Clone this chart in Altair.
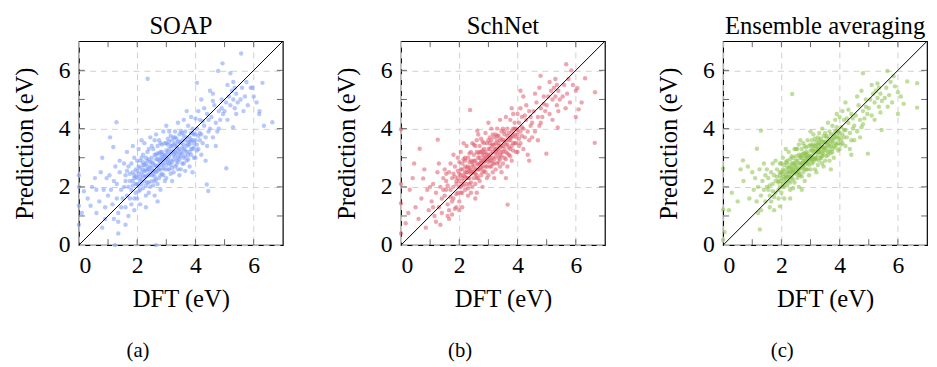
import altair as alt
import pandas as pd

# ---------------- data ----------------
PANEL_TITLES = ["SOAP", "SchNet", "Ensemble averaging"]
CAPTIONS = ["(a)", "(b)", "(c)"]
COLORS = ["#7b9af8", "#df5d6e", "#8bc148"]
TICK_VALUES = [1, 2, 3, 4, 5, 6]
LABEL_VALUES = [0, 2, 4, 6]
AXIS_RANGE = [0, 7]

SOAP_POINTS = [
    (0.0, 2.4), (0.0, 2.0), (0.0, 1.35), (0.0, 0.7), (0.1, 1.1), (0.17, 1.85), (0.45, 2.0), (0.4, 1.35), (0.3, 1.6), (0.6, 1.1),
    (0.8, 3.0), (0.6, 1.9), (0.7, 1.5), (0.8, 0.6), (0.9, 1.3), (0.95, 2.3), (0.85, 1.9), (0.75, 2.5), (0.9, 0.9), (0.55, 2.3),
    (1.07, 3.7), (1.18, 3.37), (1.29, 4.22), (1.24, 0.0), (1.35, 0.4), (2.64, 0.0), (2.36, 5.71),
    (1.1, 1.9), (1.2, 2.2), (1.3, 1.6), (1.4, 2.5), (1.45, 1.9), (1.25, 2.7), (1.35, 1.1), (1.15, 1.4), (1.4, 2.9), (1.05, 2.4),
    (1.3, 2.1), (1.45, 1.3), (1.2, 0.9), (1.0, 1.7), (1.35, 0.8),
    (1.55, 2.0), (1.6, 2.4), (1.65, 1.7), (1.7, 2.7), (1.75, 2.2), (1.8, 1.9), (1.85, 2.5), (1.9, 3.0), (1.95, 2.1), (1.6, 1.3),
    (1.7, 1.0), (1.8, 1.4), (1.9, 1.6), (1.55, 2.8), (1.65, 3.2), (1.75, 2.45), (1.85, 2.05), (1.95, 2.6), (1.7, 2.0), (1.8, 2.8),
    (1.9, 2.3), (1.6, 2.2), (1.95, 1.8), (1.85, 3.4), (1.75, 1.6), (1.5, 1.6), (1.6, 0.7), (1.9, 1.2), (1.65, 2.55), (1.85, 2.2),
    (2.0, 2.3), (2.05, 2.7), (2.1, 1.9), (2.15, 2.5), (2.2, 3.1), (2.25, 2.2), (2.3, 2.8), (2.35, 2.4), (2.4, 3.3), (2.45, 2.0),
    (2.0, 1.6), (2.1, 2.9), (2.2, 2.6), (2.3, 1.7), (2.4, 2.6), (2.05, 3.3), (2.15, 2.1), (2.25, 3.5), (2.35, 2.9), (2.45, 2.5),
    (2.0, 2.55), (2.1, 2.35), (2.2, 1.95), (2.3, 2.35), (2.4, 2.15), (2.15, 3.0), (2.25, 2.75), (2.35, 3.2), (2.45, 2.85), (2.05, 2.05),
    (2.2, 2.4), (2.3, 3.0), (2.4, 1.8), (2.1, 1.4), (2.3, 1.3), (2.45, 3.7), (2.15, 3.6), (2.35, 2.6), (2.0, 2.9), (2.25, 2.55),
    (2.5, 2.4), (2.55, 2.8), (2.6, 3.1), (2.65, 2.5), (2.7, 3.4), (2.75, 2.9), (2.8, 2.6), (2.85, 3.2), (2.9, 2.8), (2.95, 3.5),
    (2.5, 3.0), (2.6, 2.2), (2.7, 2.7), (2.8, 3.0), (2.9, 2.4), (2.55, 3.3), (2.65, 2.95), (2.75, 2.3), (2.85, 2.75), (2.95, 3.05),
    (2.5, 2.65), (2.6, 3.6), (2.7, 2.1), (2.8, 3.5), (2.9, 3.1), (2.55, 2.05), (2.65, 3.8), (2.75, 3.15), (2.85, 2.45), (2.95, 2.6),
    (2.6, 1.7), (2.8, 1.9), (2.9, 3.9), (2.7, 2.95), (2.8, 2.85), (2.5, 3.4), (2.65, 2.7), (2.95, 2.2), (2.75, 3.6), (2.85, 3.45),
    (2.7, 1.5), (2.6, 2.55),
    (3.0, 3.0), (3.05, 2.6), (3.1, 3.3), (3.15, 2.9), (3.2, 3.6), (3.25, 3.1), (3.3, 2.7), (3.35, 3.4), (3.4, 3.0), (3.45, 3.8),
    (3.0, 3.5), (3.1, 2.8), (3.2, 3.2), (3.3, 3.5), (3.4, 2.6), (3.05, 3.2), (3.15, 3.75), (3.25, 2.5), (3.35, 3.15), (3.45, 3.3),
    (3.0, 2.3), (3.1, 3.9), (3.2, 2.85), (3.3, 3.9), (3.4, 3.55), (3.05, 2.95), (3.15, 3.4), (3.25, 3.45), (3.35, 2.9), (3.45, 2.95),
    (3.0, 4.1), (3.2, 2.2), (3.3, 3.2), (3.4, 4.2), (3.1, 3.05), (3.25, 3.7), (3.45, 2.4), (3.15, 2.45), (3.35, 3.65), (3.05, 3.65),
    (3.5, 3.2), (3.55, 3.6), (3.6, 3.0), (3.65, 3.9), (3.7, 3.4), (3.75, 3.1), (3.8, 3.7), (3.85, 3.3), (3.9, 4.0), (3.95, 3.5),
    (3.5, 3.9), (3.6, 3.45), (3.7, 2.9), (3.8, 3.2), (3.9, 3.6), (3.55, 2.8), (3.65, 3.25), (3.75, 4.1), (3.85, 3.85), (3.95, 3.0),
    (3.5, 2.6), (3.6, 4.3), (3.7, 3.7), (3.8, 2.7), (3.9, 3.3), (3.55, 3.35), (3.65, 2.55), (3.75, 3.55), (3.85, 4.4), (3.95, 3.8),
    (3.7, 4.6), (3.6, 3.75), (3.8, 3.45), (3.9, 2.5),
    (4.0, 3.6), (4.05, 4.0), (4.1, 3.3), (4.15, 4.3), (4.2, 3.8), (4.25, 3.5), (4.3, 4.1), (4.35, 3.7), (4.4, 4.5), (4.45, 3.9),
    (4.0, 3.0), (4.1, 4.6), (4.2, 3.1), (4.3, 4.7), (4.4, 3.4), (4.05, 3.45), (4.15, 3.85), (4.25, 4.25), (4.35, 2.9), (4.45, 4.3),
    (4.39, 2.08), (4.44, 1.86), (4.05, 5.57), (4.2, 5.0), (4.0, 4.35),
    (4.5, 4.0), (4.55, 4.4), (4.6, 3.7), (4.65, 4.8), (4.7, 4.2), (4.75, 3.9), (4.8, 4.6), (4.85, 4.3), (4.9, 5.0), (4.95, 4.5),
    (4.6, 5.2), (4.7, 3.4), (4.8, 4.0), (4.9, 4.7), (4.78, 5.98), (4.93, 6.24), (4.5, 5.3), (4.6, 4.95),
    (5.0, 4.6), (5.05, 4.9), (5.1, 4.3), (5.15, 5.1), (5.2, 4.8), (5.25, 5.3), (5.3, 5.0), (5.35, 4.7), (5.4, 5.2), (5.45, 4.9),
    (5.06, 2.64), (5.29, 4.05), (5.1, 5.5), (5.3, 5.6), (5.4, 4.5), (5.2, 5.9), (5.35, 5.4),
    (5.57, 6.58), (5.6, 5.4), (5.7, 5.1), (5.8, 4.8), (5.9, 5.4), (5.96, 5.4), (6.3, 5.57), (6.64, 4.22), (6.19, 4.5), (6.0, 5.1),
    (6.1, 4.9), (5.75, 5.6), (5.65, 4.6), (6.2, 4.6), (5.55, 5.0), (6.35, 4.1),
]

SOAP_CORE = [
    (1.9, 2.4), (2.0, 2.1), (2.05, 2.45), (2.1, 2.65), (2.15, 2.25), (2.2, 2.75), (2.25, 2.35), (2.3, 2.55), (2.35, 2.15), (2.4, 2.4),
    (2.45, 2.7), (2.5, 2.2), (2.5, 2.85), (2.55, 2.55), (2.6, 2.75), (2.6, 2.35), (2.65, 3.1), (2.7, 2.55), (2.75, 2.75), (2.8, 2.4),
    (2.8, 3.2), (2.85, 2.95), (2.9, 2.65), (2.95, 2.9), (3.0, 2.75), (3.0, 3.25), (3.05, 3.45), (3.1, 2.6), (3.1, 3.55), (3.15, 3.15),
    (3.2, 3.4), (3.2, 2.65), (3.25, 2.95), (3.3, 3.05), (3.3, 3.7), (3.35, 3.35), (3.4, 3.25), (3.4, 2.85), (3.45, 3.55), (3.5, 3.05),
    (3.5, 3.5), (3.55, 3.15), (3.6, 3.3), (3.6, 2.8), (3.65, 3.6), (3.7, 3.2), (3.75, 3.45), (3.8, 3.55), (3.85, 3.1), (3.9, 3.85),
    (3.95, 3.35), (4.0, 3.8), (4.05, 3.25), (4.1, 3.75), (4.15, 3.6), (2.1, 2.2), (2.2, 2.85), (2.3, 2.05), (2.4, 2.95), (2.55, 2.45),
    (2.7, 3.15), (2.9, 2.95), (3.0, 3.1), (3.15, 2.75), (3.25, 3.25), (3.45, 3.1), (3.55, 3.85), (3.75, 2.95), (2.65, 2.25), (2.85, 3.1),
    (1.95, 2.35), (2.05, 1.85), (2.35, 2.7), (2.75, 2.6), (3.05, 2.85), (3.35, 2.75), (3.65, 3.05), (3.85, 3.6),
]

SCHNET_POINTS = [
    (0.0, 3.98), (0.0, 2.1), (0.0, 1.44), (0.0, 0.4), (0.16, 0.75), (0.25, 1.1), (0.45, 2.8), (0.64, 3.31), (0.76, 2.29), (0.3, 1.9),
    (0.5, 1.3), (0.6, 0.9), (0.7, 1.6), (0.85, 0.6), (0.9, 1.9), (0.4, 2.3), (0.95, 1.2), (0.8, 2.6),
    (1.26, 3.62), (2.37, 4.64), (2.62, 3.93), (3.66, 1.39), (4.99, 3.14), (5.38, 4.04), (4.79, 5.81), (5.67, 6.21), (6.32, 5.73),
    (6.66, 5.25), (6.65, 3.51), (6.1, 4.66), (6.06, 5.39),
    (1.05, 1.5), (1.1, 2.1), (1.15, 1.0), (1.2, 1.8), (1.25, 2.5), (1.3, 1.3), (1.35, 2.0), (1.4, 1.6), (1.45, 2.3), (1.0, 2.0),
    (1.2, 0.8), (1.3, 2.8), (1.4, 1.1), (1.1, 1.3), (1.45, 1.9), (1.35, 0.7),
    (1.5, 1.7), (1.55, 2.2), (1.6, 1.4), (1.65, 2.5), (1.7, 1.9), (1.75, 2.3), (1.8, 1.6), (1.85, 2.7), (1.9, 2.1), (1.95, 1.8),
    (1.5, 2.6), (1.6, 1.0), (1.7, 2.8), (1.8, 2.0), (1.9, 1.3), (1.55, 1.9), (1.65, 1.2), (1.75, 1.5), (1.85, 2.35), (1.95, 2.55),
    (1.6, 2.05), (1.7, 1.65), (1.8, 3.1), (1.9, 1.75), (1.65, 0.9), (1.75, 1.05), (1.85, 1.25), (1.95, 3.0), (1.55, 2.45), (1.8, 2.45),
    (2.0, 2.2), (2.05, 2.6), (2.1, 1.8), (2.15, 2.4), (2.2, 3.0), (2.25, 2.1), (2.3, 2.7), (2.35, 2.3), (2.4, 3.2), (2.45, 2.5),
    (2.0, 1.5), (2.1, 2.8), (2.2, 2.5), (2.3, 1.7), (2.4, 2.6), (2.05, 3.2), (2.15, 2.05), (2.25, 3.4), (2.35, 2.85), (2.45, 2.0),
    (2.0, 2.45), (2.1, 2.3), (2.2, 1.9), (2.3, 2.3), (2.4, 2.15), (2.15, 2.95), (2.25, 2.65), (2.35, 3.15), (2.45, 2.85), (2.05, 2.0),
    (2.2, 2.35), (2.3, 3.0), (2.4, 1.8), (2.1, 1.3), (2.0, 1.2), (2.45, 3.5), (2.15, 3.5), (2.35, 2.55), (2.0, 2.85), (2.25, 2.5),
    (2.5, 2.5), (2.55, 2.9), (2.6, 3.2), (2.65, 2.6), (2.7, 3.4), (2.75, 2.9), (2.8, 2.7), (2.85, 3.3), (2.9, 2.9), (2.95, 3.5),
    (2.5, 3.1), (2.6, 2.3), (2.7, 2.8), (2.8, 3.1), (2.9, 2.5), (2.55, 3.4), (2.65, 3.0), (2.75, 2.4), (2.85, 2.85), (2.95, 3.1),
    (2.5, 2.7), (2.6, 3.6), (2.7, 2.2), (2.8, 3.55), (2.9, 3.2), (2.55, 2.1), (2.65, 3.8), (2.75, 3.2), (2.85, 2.55), (2.95, 2.7),
    (2.6, 1.8), (2.8, 2.0), (2.9, 3.85), (2.7, 3.0), (2.8, 2.9), (2.5, 3.45), (2.65, 2.75), (2.95, 2.3), (2.75, 3.65), (2.85, 3.5),
    (2.55, 1.6), (2.6, 2.6),
    (3.0, 3.1), (3.05, 2.7), (3.1, 3.4), (3.15, 3.0), (3.2, 3.7), (3.25, 3.2), (3.3, 2.8), (3.35, 3.5), (3.4, 3.1), (3.45, 3.9),
    (3.0, 3.6), (3.1, 2.9), (3.2, 3.3), (3.3, 3.6), (3.4, 2.7), (3.05, 3.3), (3.15, 3.8), (3.25, 2.6), (3.35, 3.25), (3.45, 3.4),
    (3.0, 2.4), (3.1, 4.0), (3.2, 2.95), (3.3, 4.0), (3.4, 3.6), (3.05, 3.0), (3.15, 3.45), (3.25, 3.5), (3.35, 3.0), (3.45, 3.05),
    (3.0, 4.2), (3.2, 2.3), (3.3, 3.3), (3.4, 4.3), (3.1, 3.15), (3.25, 3.8), (3.45, 2.5), (3.15, 2.5), (3.35, 3.75), (3.05, 3.7),
    (3.5, 3.4), (3.55, 3.8), (3.6, 3.2), (3.65, 4.0), (3.7, 3.6), (3.75, 3.3), (3.8, 3.9), (3.85, 3.5), (3.9, 4.2), (3.95, 3.7),
    (3.5, 4.0), (3.6, 3.6), (3.7, 3.1), (3.8, 3.4), (3.9, 3.8), (3.55, 3.0), (3.65, 3.45), (3.75, 4.3), (3.85, 4.0), (3.95, 3.2),
    (3.5, 2.8), (3.6, 4.4), (3.7, 3.85), (3.8, 2.9), (3.9, 3.5), (3.55, 3.55), (3.65, 2.7), (3.75, 3.7), (3.85, 4.5), (3.95, 4.0),
    (3.6, 2.3), (3.8, 4.7),
    (4.0, 3.8), (4.05, 4.2), (4.1, 3.5), (4.15, 4.4), (4.2, 4.0), (4.25, 3.7), (4.3, 4.3), (4.35, 3.9), (4.4, 4.6), (4.45, 4.1),
    (4.0, 3.2), (4.1, 4.7), (4.2, 3.3), (4.3, 4.8), (4.4, 3.6), (4.05, 3.65), (4.15, 4.05), (4.25, 4.45), (4.35, 3.1), (4.45, 4.4),
    (4.0, 4.5), (4.2, 5.1), (4.4, 2.9), (4.1, 5.3),
    (4.5, 4.2), (4.55, 4.6), (4.6, 3.9), (4.65, 4.9), (4.7, 4.4), (4.75, 4.1), (4.8, 4.7), (4.85, 4.4), (4.9, 5.1), (4.95, 4.6),
    (4.6, 5.2), (4.7, 3.6), (4.8, 4.2), (4.9, 4.85), (4.5, 3.7), (4.75, 5.4),
    (5.0, 4.8), (5.05, 5.1), (5.1, 4.5), (5.15, 5.3), (5.2, 5.0), (5.25, 5.4), (5.3, 5.1), (5.35, 4.8), (5.4, 5.3), (5.45, 5.0),
    (5.1, 5.6), (5.3, 5.7), (5.4, 4.6), (5.2, 4.3), (5.35, 5.5),
    (5.6, 5.5), (5.7, 5.2), (5.8, 4.9), (5.9, 5.5), (5.75, 5.7), (5.65, 4.7), (5.55, 5.1), (6.0, 5.3), (6.2, 4.9), (5.85, 6.0),
    (6.0, 4.4),
]

SCHNET_CORE = [
    (1.9, 2.2), (2.0, 2.0), (2.05, 2.4), (2.1, 2.6), (2.15, 2.2), (2.2, 2.7), (2.25, 2.3), (2.3, 2.5), (2.35, 2.1), (2.4, 2.45),
    (2.45, 2.75), (2.5, 2.3), (2.5, 2.9), (2.55, 2.6), (2.6, 2.8), (2.6, 2.4), (2.65, 3.15), (2.7, 2.6), (2.75, 2.8), (2.8, 2.5),
    (2.8, 3.25), (2.85, 3.0), (2.9, 2.7), (2.95, 2.95), (3.0, 2.85), (3.0, 3.3), (3.05, 3.5), (3.1, 2.7), (3.1, 3.6), (3.15, 3.2),
    (3.2, 3.45), (3.2, 2.8), (3.25, 3.05), (3.3, 3.15), (3.3, 3.75), (3.35, 3.4), (3.4, 3.35), (3.4, 2.95), (3.45, 3.65), (3.5, 3.2),
    (3.5, 3.6), (3.55, 3.3), (3.6, 3.45), (3.6, 2.95), (3.65, 3.75), (3.7, 3.35), (3.75, 3.6), (3.8, 3.7), (3.85, 3.25), (3.9, 4.0),
    (3.95, 3.5), (4.0, 3.95), (4.05, 3.4), (4.1, 3.9), (4.15, 3.75), (2.1, 2.1), (2.2, 2.9), (2.3, 1.95), (2.4, 2.9), (2.55, 2.45),
    (2.7, 3.2), (2.9, 3.0), (3.0, 3.05), (3.15, 2.8), (3.25, 3.3), (3.45, 3.2), (3.55, 3.9), (3.75, 3.05), (2.65, 2.3), (2.85, 3.15),
    (1.95, 2.3), (2.05, 1.8), (2.35, 2.65), (2.75, 2.65), (3.05, 2.9), (3.35, 2.85), (3.65, 3.15), (3.85, 3.75),
]

ENSEMBLE_POINTS = [
    (0.0, 2.63), (0.0, 1.22), (0.0, 0.18), (0.05, 0.45), (0.68, 2.91), (1.16, 3.31), (1.3, 3.93), (2.37, 5.19), (1.26, 0.54),
    (1.95, 1.33), (4.97, 3.14), (5.44, 3.95), (4.8, 5.9), (5.64, 5.98), (6.32, 5.62), (6.66, 5.56), (6.66, 4.72), (0.3, 1.8),
    (0.5, 1.5), (0.7, 2.2), (0.9, 1.6), (0.6, 2.6), (0.2, 1.2), (0.85, 2.7),
    (1.05, 1.9), (1.1, 2.3), (1.15, 1.5), (1.2, 2.0), (1.25, 2.6), (1.3, 1.7), (1.35, 2.2), (1.4, 1.9), (1.45, 2.4), (1.0, 2.5),
    (1.3, 1.2), (1.4, 2.8), (1.2, 1.1), (1.45, 1.5),
    (1.5, 2.0), (1.55, 2.3), (1.6, 1.7), (1.65, 2.5), (1.7, 2.1), (1.75, 2.4), (1.8, 1.8), (1.85, 2.6), (1.9, 2.2), (1.95, 2.0),
    (1.5, 2.6), (1.6, 1.3), (1.7, 2.8), (1.8, 2.2), (1.9, 1.6), (1.55, 1.9), (1.65, 1.5), (1.75, 1.65), (1.85, 2.35), (1.95, 2.5),
    (1.6, 2.05), (1.7, 1.85), (1.8, 2.9), (1.9, 1.9), (1.75, 1.2), (1.95, 2.8),
    (2.0, 2.3), (2.05, 2.6), (2.1, 2.0), (2.15, 2.4), (2.2, 2.9), (2.25, 2.2), (2.3, 2.7), (2.35, 2.4), (2.4, 3.0), (2.45, 2.5),
    (2.0, 1.8), (2.1, 2.75), (2.2, 2.5), (2.3, 1.9), (2.4, 2.6), (2.05, 3.0), (2.15, 2.15), (2.25, 3.2), (2.35, 2.8), (2.45, 2.15),
    (2.0, 2.5), (2.1, 2.35), (2.2, 2.05), (2.3, 2.35), (2.4, 2.25), (2.15, 2.85), (2.25, 2.65), (2.35, 3.05), (2.45, 2.8), (2.05, 2.1),
    (2.2, 2.35), (2.3, 2.95), (2.4, 1.95), (2.1, 1.6), (2.45, 3.3), (2.15, 3.3), (2.35, 2.55), (2.0, 2.8), (2.25, 2.5), (2.3, 1.6),
    (2.5, 2.6), (2.55, 2.9), (2.6, 3.1), (2.65, 2.65), (2.7, 3.3), (2.75, 2.9), (2.8, 2.75), (2.85, 3.2), (2.9, 2.9), (2.95, 3.4),
    (2.5, 3.05), (2.6, 2.4), (2.7, 2.8), (2.8, 3.05), (2.9, 2.6), (2.55, 3.3), (2.65, 3.0), (2.75, 2.5), (2.85, 2.85), (2.95, 3.05),
    (2.5, 2.75), (2.6, 3.45), (2.7, 2.35), (2.8, 3.4), (2.9, 3.15), (2.55, 2.3), (2.65, 3.6), (2.75, 3.15), (2.85, 2.6), (2.95, 2.75),
    (2.6, 2.0), (2.8, 2.2), (2.9, 3.6), (2.7, 3.0), (2.8, 2.9), (2.5, 3.3), (2.65, 2.8), (2.95, 2.4), (2.75, 3.5), (2.85, 3.35),
    (2.6, 2.6), (2.7, 1.9),
    (3.0, 3.05), (3.05, 2.8), (3.1, 3.3), (3.15, 3.0), (3.2, 3.55), (3.25, 3.2), (3.3, 2.9), (3.35, 3.45), (3.4, 3.15), (3.45, 3.75),
    (3.0, 3.45), (3.1, 2.95), (3.2, 3.25), (3.3, 3.5), (3.4, 2.8), (3.05, 3.25), (3.15, 3.65), (3.25, 2.75), (3.35, 3.2), (3.45, 3.35),
    (3.0, 2.6), (3.1, 3.8), (3.2, 3.0), (3.3, 3.85), (3.4, 3.55), (3.05, 3.0), (3.15, 3.4), (3.25, 3.45), (3.35, 3.0), (3.45, 3.1),
    (3.0, 3.9), (3.2, 2.5), (3.3, 3.3), (3.4, 4.0), (3.1, 3.15), (3.25, 3.7), (3.45, 2.7), (3.15, 2.6), (3.35, 3.65), (3.05, 3.6),
    (3.5, 3.35), (3.55, 3.7), (3.6, 3.2), (3.65, 3.9), (3.7, 3.55), (3.75, 3.3), (3.8, 3.8), (3.85, 3.5), (3.9, 4.05), (3.95, 3.65),
    (3.5, 3.85), (3.6, 3.55), (3.7, 3.15), (3.8, 3.4), (3.9, 3.75), (3.55, 3.05), (3.65, 3.4), (3.75, 4.1), (3.85, 3.9), (3.95, 3.25),
    (3.5, 2.9), (3.6, 4.2), (3.7, 3.8), (3.8, 3.0), (3.9, 3.45), (3.55, 3.5), (3.65, 2.9), (3.75, 3.65), (3.85, 4.3), (3.95, 3.9),
    (3.7, 2.6), (3.9, 4.5),
    (4.0, 3.7), (4.05, 4.05), (4.1, 3.5), (4.15, 4.3), (4.2, 3.95), (4.25, 3.7), (4.3, 4.2), (4.35, 3.85), (4.4, 4.5), (4.45, 4.0),
    (4.0, 3.3), (4.1, 4.6), (4.2, 3.4), (4.3, 4.65), (4.4, 3.6), (4.05, 3.6), (4.15, 3.95), (4.25, 4.35), (4.35, 3.3), (4.45, 4.35),
    (4.0, 4.4), (4.2, 4.9), (4.4, 3.1),
    (4.5, 4.1), (4.55, 4.45), (4.6, 3.9), (4.65, 4.8), (4.7, 4.3), (4.75, 4.05), (4.8, 4.6), (4.85, 4.35), (4.9, 5.0), (4.95, 4.5),
    (4.6, 5.1), (4.7, 3.7), (4.8, 4.15), (4.9, 4.75), (4.5, 3.6), (4.75, 5.3),
    (5.0, 4.7), (5.05, 5.0), (5.1, 4.45), (5.15, 5.2), (5.2, 4.9), (5.25, 5.3), (5.3, 5.05), (5.35, 4.75), (5.4, 5.2), (5.45, 4.95),
    (5.1, 5.5), (5.3, 5.55), (5.4, 4.55), (5.2, 4.3), (5.35, 5.4),
    (5.6, 5.4), (5.7, 5.15), (5.8, 4.9), (5.9, 5.45), (5.75, 5.6), (5.65, 4.75), (5.55, 5.05), (6.0, 5.25), (6.2, 4.85), (5.85, 5.8),
    (6.0, 4.5), (6.1, 5.1),
]

ENSEMBLE_CORE = [
    (1.9, 2.15), (2.0, 2.2), (2.05, 2.45), (2.1, 2.55), (2.15, 2.3), (2.2, 2.65), (2.25, 2.35), (2.3, 2.5), (2.35, 2.3), (2.4, 2.5),
    (2.45, 2.7), (2.5, 2.45), (2.5, 2.9), (2.55, 2.65), (2.6, 2.8), (2.6, 2.5), (2.65, 3.05), (2.7, 2.65), (2.75, 2.8), (2.8, 2.6),
    (2.8, 3.15), (2.85, 3.0), (2.9, 2.8), (2.95, 2.95), (3.0, 2.9), (3.0, 3.25), (3.05, 3.4), (3.1, 2.85), (3.1, 3.45), (3.15, 3.2),
    (3.2, 3.4), (3.2, 2.95), (3.25, 3.1), (3.3, 3.2), (3.3, 3.6), (3.35, 3.35), (3.4, 3.35), (3.4, 3.05), (3.45, 3.55), (3.5, 3.25),
    (3.5, 3.55), (3.55, 3.35), (3.6, 3.45), (3.6, 3.1), (3.65, 3.65), (3.7, 3.4), (3.75, 3.55), (3.8, 3.65), (3.85, 3.35), (3.9, 3.9),
    (3.95, 3.5), (4.0, 3.85), (4.05, 3.45), (4.1, 3.8), (4.15, 3.7), (2.1, 2.25), (2.2, 2.8), (2.3, 2.15), (2.4, 2.8), (2.55, 2.5),
    (2.7, 3.1), (2.9, 3.0), (3.0, 3.05), (3.15, 2.95), (3.25, 3.3), (3.45, 3.25), (3.55, 3.75), (3.75, 3.2), (2.65, 2.4), (2.85, 3.1),
    (1.95, 2.4), (2.05, 2.0), (2.35, 2.65), (2.75, 2.7), (3.05, 2.95), (3.35, 3.0), (3.65, 3.25), (3.85, 3.7),
]

ALL_POINTS = [SOAP_POINTS + SOAP_CORE, SCHNET_POINTS + SCHNET_CORE, ENSEMBLE_POINTS + ENSEMBLE_CORE]

# ---------------- chart ----------------
SERIF = "Liberation Serif"
W = 207
H = 207

ticks_df = pd.DataFrame({"t": TICK_VALUES})
diag_df = pd.DataFrame({"x": [AXIS_RANGE[0]], "y": [AXIS_RANGE[0]], "x2": [AXIS_RANGE[1]], "y2": [AXIS_RANGE[1]]})

xscale = alt.Scale(domain=AXIS_RANGE, nice=False, zero=False)
yscale = alt.Scale(domain=AXIS_RANGE, nice=False, zero=False)


def panel(points, title, caption, color):
    df = pd.DataFrame(points, columns=["dft", "pred"])
    xaxis = alt.Axis(values=LABEL_VALUES, title="DFT (eV)", ticks=False, domain=False,
                     grid=True, labelPadding=9, titlePadding=9)
    yaxis = alt.Axis(values=LABEL_VALUES, title="Prediction (eV)", ticks=False, domain=False,
                     grid=True, labelPadding=9, titlePadding=21)
    pts = alt.Chart(df).mark_circle(size=20, opacity=0.55, color=color).encode(
        x=alt.X("dft:Q", scale=xscale, axis=xaxis),
        y=alt.Y("pred:Q", scale=yscale, axis=yaxis),
    )
    diag = alt.Chart(diag_df).mark_rule(color="black", strokeWidth=1).encode(
        x="x:Q", y="y:Q", x2="x2:Q", y2="y2:Q"
    )
    tick_style = dict(color="#444444", strokeWidth=0.8)
    tb = alt.Chart(ticks_df).mark_rule(**tick_style).encode(x="t:Q", y=alt.value(H), y2=alt.value(H - 6))
    tt = alt.Chart(ticks_df).mark_rule(**tick_style).encode(x="t:Q", y=alt.value(0), y2=alt.value(6))
    tl = alt.Chart(ticks_df).mark_rule(**tick_style).encode(y="t:Q", x=alt.value(0), x2=alt.value(6))
    tr = alt.Chart(ticks_df).mark_rule(**tick_style).encode(y="t:Q", x=alt.value(W), x2=alt.value(W - 6))
    cap = alt.Chart(pd.DataFrame({"c": [caption]})).mark_text(
        font=SERIF, fontSize=21, color="black", baseline="middle", align="center"
    ).encode(text="c:N", x=alt.value(60), y=alt.value(315))
    return alt.layer(pts, diag, tb, tt, tl, tr, cap).properties(
        width=W, height=H,
        title=alt.TitleParams(title, font=SERIF, fontSize=25, fontWeight="normal", color="black", offset=2),
    )


panels = [panel(p, t, c, col) for p, t, c, col in zip(ALL_POINTS, PANEL_TITLES, CAPTIONS, COLORS)]

chart = alt.hconcat(*panels, spacing=50).properties(
    padding={"left": 4, "top": 2, "right": 0, "bottom": 0}
).configure_view(
    stroke="black", strokeWidth=1.2
).configure_axis(
    labelFont=SERIF, labelFontSize=24, labelColor="black",
    titleFont=SERIF, titleFontSize=25, titleFontWeight="normal", titleColor="black",
    gridColor="#cfcfcf", gridDash=[6, 5], gridWidth=1,
).configure_concat(spacing=50)

chart.save("out.html", embed_options={"renderer": "svg", "actions": False})
